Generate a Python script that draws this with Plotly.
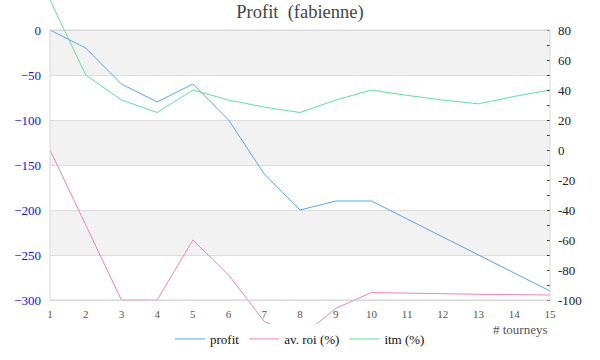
import plotly.graph_objects as go

# ---- data ----
tourneys = list(range(1, 16))
profit = [0, -20, -60, -80, -60, -100, -160, -200, -190, -190, -210, -230, -250, -270, -290]
av_roi = [0, -50, -100, -100, -60, -83.3, -114.3, -125, -105.6, -95, -95.5, -95.8, -96.2, -96.4, -96.7]
itm = [100, 50, 33.3, 25, 40, 33.3, 28.6, 25, 33.3, 40, 36.4, 33.3, 30.8, 35.7, 40]

left_ticks = [0, -50, -100, -150, -200, -250, -300]
right_ticks = list(range(-100, 90, 10))
right_labels = [str(v) if v % 20 == 0 else "" for v in right_ticks]

# ---- styles ----
SERIF = "Liberation Serif"
C_PROFIT = "#58a6f0"
C_ROI = "#f283b8"
C_ITM = "#5fe0a2"

# plot area spans y pixels 0..324 ; framed region is 30..300
W, H = 600, 360
M_L, M_R, M_T, M_B = 50, 50, 0, 36
area_h = H - M_T - M_B
frame_top_px, frame_bot_px = 30, 300
lpx = (frame_bot_px - frame_top_px) / (left_ticks[0] - left_ticks[-1])
rpx = (frame_bot_px - frame_top_px) / (right_ticks[-1] - right_ticks[0])
left_range = [left_ticks[-1] - (area_h - frame_bot_px) / lpx, left_ticks[0] + frame_top_px / lpx]
right_range = [right_ticks[0] - (area_h - frame_bot_px) / rpx, right_ticks[-1] + frame_top_px / rpx]

fig = go.Figure()
fig.add_trace(go.Scatter(x=tourneys, y=profit, name="profit", mode="lines",
                         line=dict(color=C_PROFIT, width=1), yaxis="y"))
fig.add_trace(go.Scatter(x=tourneys, y=av_roi, name="av. roi (%)", mode="lines",
                         line=dict(color=C_ROI, width=1), yaxis="y2"))
fig.add_trace(go.Scatter(x=tourneys, y=itm, name="itm (%)", mode="lines",
                         line=dict(color=C_ITM, width=1), yaxis="y2"))

shapes = []
# alternating bands
for i in range(0, len(left_ticks) - 1, 2):
    shapes.append(dict(type="rect", xref="x domain", x0=0, x1=1, yref="y",
                       y0=left_ticks[i + 1], y1=left_ticks[i],
                       fillcolor="#f2f2f2", line=dict(width=0), layer="below"))
# frame
shapes.append(dict(type="rect", xref="x domain", x0=0, x1=1, yref="y",
                   y0=left_ticks[-1], y1=left_ticks[0],
                   fillcolor="rgba(0,0,0,0)", line=dict(color="#d6d6d6", width=1), layer="above"))

fig.update_layout(
    width=W, height=H,
    margin=dict(l=M_L, r=M_R, t=M_T, b=M_B, pad=0),
    paper_bgcolor="white", plot_bgcolor="white",
    title=dict(text="Profit\u00a0 (fabienne)", x=0.5, xanchor="center",
               xref="container", yref="container", y=1 - 12 / H, yanchor="middle",
               font=dict(family=SERIF, size=18.5, color="#444444")),
    xaxis=dict(range=[tourneys[0], tourneys[-1]], tickvals=tourneys,
               anchor="free", position=(area_h - frame_bot_px) / area_h,
               showgrid=False, zeroline=False, showline=False, ticks="",
               ticklabelstandoff=6, automargin=False,
               tickfont=dict(family=SERIF, size=11, color="#555555")),
    yaxis=dict(range=left_range, tickvals=left_ticks, showgrid=True,
               gridcolor="#dcdcdc", gridwidth=1, zeroline=False, showline=False,
               ticks="", ticklabelstandoff=8, automargin=False,
               tickfont=dict(family=SERIF, size=13, color="#1010ff")),
    yaxis2=dict(range=right_range, tickvals=right_ticks, ticktext=right_labels,
                overlaying="y", side="right", anchor="x", showgrid=False,
                zeroline=False, showline=False, ticks="inside", ticklen=3,
                tickcolor="#333333", tickwidth=1, ticklabelstandoff=7, automargin=False,
                tickfont=dict(family=SERIF, size=13, color="#222222")),
    legend=dict(orientation="h", x=0.5, xanchor="center",
                y=-15 / area_h, yanchor="middle",
                font=dict(family=SERIF, size=13, color="#111111"),
                bgcolor="rgba(0,0,0,0)"),
    shapes=shapes,
    annotations=[dict(text="# tourneys", xref="paper", x=1, xanchor="right",
                      yref="paper", y=-5 / area_h, yanchor="middle", showarrow=False,
                      font=dict(family=SERIF, size=13, color="#555555"))],
)

fig.write_html("out.html", config={"displayModeBar": False},
               post_script="document.body.style.margin='0';")
